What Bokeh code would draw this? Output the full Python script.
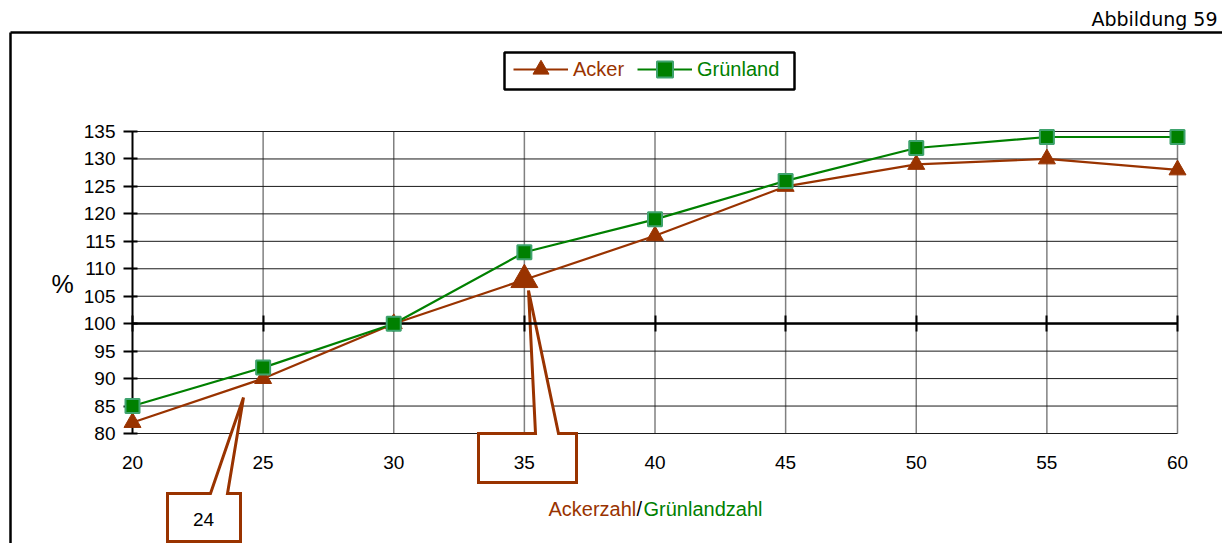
from bokeh.plotting import figure
from bokeh.models import Range1d, LinearAxis, FixedTicker, Legend, LegendItem, BoxAnnotation
from bokeh.core.properties import value
from bokeh.embed import file_html
from bokeh.resources import INLINE

# ---- data ----
zahl = [20, 25, 30, 35, 40, 45, 50, 55, 60]
acker = [82, 90, 100, 108, 116, 125, 129, 130, 128]
gruenland = [85, 92, 100, 113, 119, 126, 132, 134, 134]
y_ticks = [80, 85, 90, 95, 100, 105, 110, 115, 120, 125, 130, 135]
x_ticks = [20, 25, 30, 35, 40, 45, 50, 55, 60]
series_names = ["Acker", "Grünland"]
title_text = "Abbildung 59"
axis_title = ["Ackerzahl", "/", "Grünlandzahl"]
y_title = "%"
callout_24 = "24"

BROWN = "#993300"
GREEN = "#008000"
FONT = "Liberation Sans"
ARIAL = value(FONT)


# canvas pixel -> data helpers (layout only)
def X(px):
    return 20 + (px - 132) / 26.125


def Y(py):
    return 80 + (433 - py) / 5.4909


W, H = 1222, 543
p = figure(width=W, height=H, output_backend="svg", toolbar_location=None, title=None,
           x_range=Range1d(X(0), X(W)), y_range=Range1d(Y(H), Y(0)),
           min_border=0, x_axis_location=None, y_axis_location=None)
p.grid.visible = False
p.outline_line_color = None
p.background_fill_color = "white"
p.border_fill_color = "white"

# outer frame (left + top edges)
p.segment(x0=[X(10), X(10)], y0=[Y(32), Y(32)], x1=[X(10), X(1240)], y1=[Y(560), Y(32)],
          line_color="black", line_width=2.5)

# title
p.text(x=[X(1217)], y=[Y(18)], text=[title_text], text_align="right", text_baseline="middle",
       text_font=value("DejaVu Sans"), text_font_size="19px", text_color="black")

# gridlines
n_y = len(y_ticks)
n_x = len(x_ticks)
p.segment(x0=x_ticks[1:], y0=[y_ticks[0]] * (n_x - 1), x1=x_ticks[1:], y1=[y_ticks[-1]] * (n_x - 1),
          line_color="#808080", line_width=1.5)
p.segment(x0=[x_ticks[0]] * n_y, y0=y_ticks, x1=[x_ticks[-1]] * n_y, y1=y_ticks,
          line_color="#1a1a1a", line_width=1)

# series
al = p.line(zahl, acker, line_color=BROWN, line_width=2.2)
asc = p.scatter(zahl, acker, marker="triangle", size=17, fill_color=BROWN, line_color=BROWN,
                level="overlay")
gl = p.line(zahl, gruenland, line_color=GREEN, line_width=2.2)
gsc = p.scatter(zahl, gruenland, marker="square", size=14, fill_color=GREEN,
                line_color="#3fa36e", line_width=2, level="overlay")

# callouts
c35_x = [X(v) for v in [478, 535, 528, 558, 576, 576, 478]]
c35_y = [Y(v) for v in [433, 433, 290, 433, 433, 482, 482]]
c24_x = [X(v) for v in [167, 210, 243, 227, 240, 240, 167]]
c24_y = [Y(v) for v in [493, 493, 397, 493, 493, 541, 541]]
p.patches(xs=[c35_x, c24_x], ys=[c35_y, c24_y], fill_color="white", line_color=BROWN,
          line_width=3, line_join="miter")
i35 = zahl.index(35)
p.scatter([zahl[i35]], [acker[i35]], marker="triangle", size=27, fill_color=BROWN, line_color=BROWN,
          level="overlay")
p.text(x=[X(203)], y=[Y(519)], text=[callout_24], text_align="center", text_baseline="middle",
       text_font=ARIAL, text_font_size="19px", text_color="black")

# axes
yax = LinearAxis(fixed_location=20, bounds=(80, 135), ticker=FixedTicker(ticks=y_ticks),
                 axis_line_width=2, axis_line_color="black",
                 major_tick_in=5, major_tick_out=9, major_tick_line_width=2,
                 minor_tick_line_color=None, major_label_standoff=8,
                 major_label_text_font=FONT, major_label_text_font_size="19px",
                 major_label_text_color="black")
p.add_layout(yax, "left")
xax = LinearAxis(fixed_location=100, bounds=(20, 60), ticker=FixedTicker(ticks=x_ticks),
                 axis_line_width=2.5, axis_line_color="black",
                 major_tick_in=8, major_tick_out=8, major_tick_line_width=2,
                 minor_tick_line_color=None, major_label_standoff=124,
                 major_label_text_font=FONT, major_label_text_font_size="19px",
                 major_label_text_color="black")
p.add_layout(xax, "below")

# axis titles
p.text(x=[X(62)], y=[Y(283)], text=[y_title], text_align="center", text_baseline="middle",
       text_font=ARIAL, text_font_size="25px", text_color="black")
p.text(x=[X(548)], y=[Y(508)], text=[axis_title[0]], text_align="left", text_baseline="alphabetic",
       text_font=ARIAL, text_font_size="20px", text_color=BROWN)
p.text(x=[X(636)], y=[Y(508)], text=[axis_title[1]], text_align="left", text_baseline="alphabetic",
       text_font=ARIAL, text_font_size="20px", text_color="black")
p.text(x=[X(643)], y=[Y(508)], text=[axis_title[2]], text_align="left", text_baseline="alphabetic",
       text_font=ARIAL, text_font_size="20px", text_color=GREEN)

# legend
box = BoxAnnotation(left=X(504), right=X(794), top=Y(52), bottom=Y(89), fill_color="white",
                    fill_alpha=1, line_color="black", line_width=2.5, line_alpha=1)
p.add_layout(box)
common = dict(orientation="horizontal", padding=0, margin=0, spacing=0, glyph_width=55,
              glyph_height=40, label_height=20, label_standoff=5, label_text_font=FONT,
              label_text_font_size="20px", border_line_color=None, background_fill_alpha=0)
leg1 = Legend(items=[LegendItem(label=series_names[0], renderers=[al, asc])],
              location=(513, H - 89), label_text_color=BROWN, **common)
leg2 = Legend(items=[LegendItem(label=series_names[1], renderers=[gl, gsc])],
              location=(637, H - 89), label_text_color=GREEN, **common)
p.add_layout(leg1)
p.add_layout(leg2)

open("out.html", "w").write(file_html(p, INLINE))
